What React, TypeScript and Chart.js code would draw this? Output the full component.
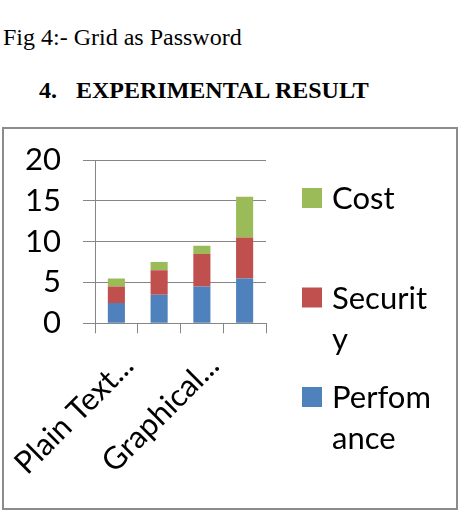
import React, { useEffect, useRef } from "react";
import { Chart, registerables } from "chart.js";

Chart.register(...registerables);

// ---- data ----
const categories = ["Plain Text...", "", "Graphical...", ""];
const perfomance = [2.5, 3.5, 4.5, 5.5];
const security = [2, 3, 4, 5];
const cost = [1, 1, 1, 5];
const seriesNames = ["Perfomance", "Security", "Cost"];
const yMin = 0;
const yMax = 20;
const yStep = 5;

// ---- style ----
const COLORS = ["#4F81BD", "#C0504D", "#9BBB59"];
const FONT = "Lato, 'Open Sans', sans-serif";
const FONT_SIZE = 31;
const GRID = "#868686";

const CANVAS_W = 452;
const CANVAS_H = 379;

function wrapChars(ctx: CanvasRenderingContext2D, text: string, maxW: number): string[] {
  const lines: string[] = [];
  let cur = "";
  for (const ch of text) {
    const t = cur + ch;
    if (cur && ctx.measureText(t).width > maxW) {
      lines.push(cur);
      cur = ch;
    } else cur = t;
  }
  if (cur) lines.push(cur);
  return lines;
}

const sideLegend = {
  id: "sideLegend",
  afterDraw(chart: any) {
    const ctx: CanvasRenderingContext2D = chart.ctx;
    const ds = chart.data.datasets;
    const LEG_X = 298;
    const LEG_TOP = 59;
    const LEG_STEP = 99.5;
    const LEG_LH = 41;
    const SQ = 20;
    ctx.save();
    ctx.font = `${FONT_SIZE}px ${FONT}`;
    ctx.textAlign = "left";
    ctx.textBaseline = "alphabetic";
    const order = ds.map((_: any, i: number) => i).reverse();
    order.forEach((di: number, k: number) => {
      const d = ds[di];
      const top = LEG_TOP + k * LEG_STEP;
      ctx.fillStyle = d.backgroundColor;
      ctx.fillRect(LEG_X, top, SQ, SQ);
      ctx.fillStyle = "#000";
      const lines = wrapChars(ctx, d.label, 104);
      lines.forEach((ln, i) => ctx.fillText(ln, LEG_X + 30, top + SQ + 1 + i * LEG_LH));
    });
    ctx.restore();
  },
};

export default function App() {
  const ref = useRef<HTMLCanvasElement | null>(null);

  useEffect(() => {
    if (!ref.current) return;
    const values = [perfomance, security, cost];
    const chart = new Chart(ref.current, {
      type: "bar",
      data: {
        labels: categories,
        datasets: values.map((v, i) => ({
          label: seriesNames[i],
          data: v,
          backgroundColor: COLORS[i],
          borderWidth: 0,
          barPercentage: 0.4,
          categoryPercentage: 1,
        })),
      },
      options: {
        responsive: false,
        animation: false,
        devicePixelRatio: 1,
        layout: { padding: { left: 0, top: 31, right: 190, bottom: 0 } },
        plugins: {
          legend: { display: false },
          tooltip: { enabled: false },
          title: { display: false },
        },
        scales: {
          x: {
            stacked: true,
            grid: {
              display: true,
              offset: true,
              drawOnChartArea: false,
              drawTicks: true,
              tickLength: 10,
              color: GRID,
              lineWidth: 1,
            },
            border: { display: true, color: GRID, width: 1 },
            ticks: {
              autoSkip: false,
              maxRotation: 45,
              minRotation: 45,
              color: "#000",
              font: { family: FONT, size: FONT_SIZE },
              padding: 14,
              labelOffset: 12,
            },
            afterFit: (s: any) => {
              s.height = 184.7;
              s.paddingLeft = 0;
              s.paddingRight = 0;
              s.paddingTop = 0;
              s.paddingBottom = 0;
            },
          },
          y: {
            stacked: true,
            min: yMin,
            max: yMax,
            grid: {
              color: GRID,
              lineWidth: 1,
              tickLength: 12,
              drawTicks: true,
            },
            border: { display: true, color: GRID, width: 1 },
            ticks: {
              autoSkip: false,
              stepSize: yStep,
              color: "#000",
              font: { family: FONT, size: FONT_SIZE },
              padding: 22,
            },
            afterFit: (s: any) => {
              s.width = 91;
              s.paddingLeft = 0;
              s.paddingRight = 0;
              s.paddingTop = 0;
              s.paddingBottom = 0;
            },
          },
        },
      },
      plugins: [sideLegend],
    });
    return () => chart.destroy();
  }, []);

  const serif = "'Liberation Serif', 'Times New Roman', serif";
  return (
    <div style={{ position: "absolute", left: 0, top: 0, width: 466, height: 518, background: "#fff" }}>
      <div
        style={{
          position: "absolute",
          left: 3,
          top: 25,
          fontFamily: serif,
          fontSize: 24,
          lineHeight: "24px",
          whiteSpace: "nowrap",
          color: "#000",
        }}
      >
        Fig 4:- Grid as Password
      </div>
      <div
        style={{
          position: "absolute",
          left: 39,
          top: 78,
          fontFamily: serif,
          fontSize: 24,
          fontWeight: "bold",
          lineHeight: "24px",
          whiteSpace: "nowrap",
          color: "#000",
        }}
      >
        4.
      </div>
      <div
        style={{
          position: "absolute",
          left: 76,
          top: 78,
          fontFamily: serif,
          fontSize: 24,
          fontWeight: "bold",
          lineHeight: "24px",
          whiteSpace: "nowrap",
          color: "#000",
        }}
      >
        EXPERIMENTAL RESULT
      </div>
      <div
        style={{
          position: "absolute",
          left: 2,
          top: 127,
          width: 452,
          height: 379,
          border: "2px solid #8c8c8c",
        }}
      />
      <canvas
        ref={ref}
        width={CANVAS_W}
        height={CANVAS_H}
        style={{ position: "absolute", left: 4, top: 129, width: CANVAS_W, height: CANVAS_H, display: "block" }}
      />
    </div>
  );
}
